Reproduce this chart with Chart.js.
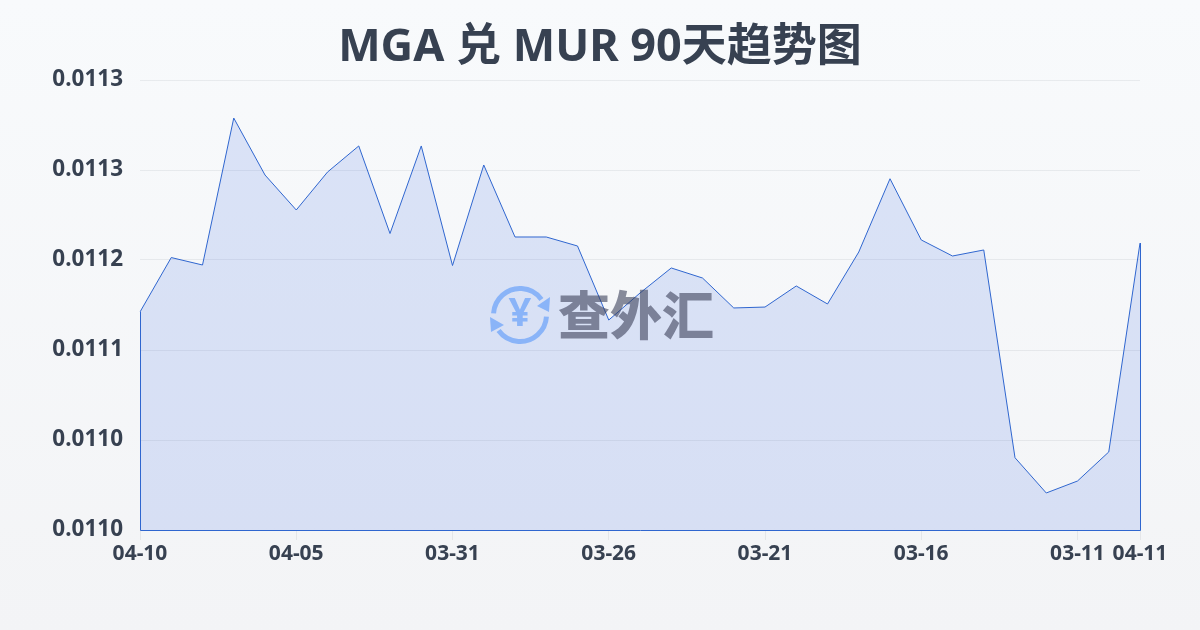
<!DOCTYPE html>
<html lang="zh-CN">
<head>
    <meta charset="UTF-8">
    <title>MGA 兑 MUR 90天趋势图</title>
    <style>
        html, body { margin: 0; padding: 0; }
        body { width: 1200px; height: 630px; overflow: hidden; background: linear-gradient(180deg, #f8fafc, #f3f4f6); }
        #wrap { position: relative; width: 1200px; height: 630px; }
        h1 {
            position: absolute; left: 0; top: 14px; width: 1200px; margin: 0;
            text-align: center; line-height: 60px; font-size: 45px; font-weight: bold; color: #374151;
            font-family: "Noto Sans", "Noto Sans CJK SC", sans-serif;
        }
    </style>
</head>
<body>
    <div id="wrap">
        <h1 id="title"></h1>
        <canvas id="chart" width="1200" height="630"></canvas>
    </div>

    <script src="https://cdn.jsdelivr.net/npm/chart.js@4.4.9/dist/chart.umd.min.js"></script>
    <script>
        const titleText = 'MGA 兑 MUR 90天趋势图';
        const fontStack = '"Noto Sans", "Noto Sans CJK SC", sans-serif';

        const dates = ['04-10', '04-09', '04-08', '04-07', '04-06', '04-05', '04-04', '04-03', '04-02', '04-01', '03-31',
            '03-30', '03-29', '03-28', '03-27', '03-26', '03-25', '03-24', '03-23', '03-22', '03-21',
            '03-20', '03-19', '03-18', '03-17', '03-16', '03-15', '03-14', '03-13', '03-12', '03-11', '03-10', '04-11'];
        const rates = [0.0111446, 0.0111869, 0.0111811, 0.0112954, 0.0112511, 0.0112239, 0.0112534, 0.0112737, 0.0112056, 0.0112737, 0.0111807,
            0.0112589, 0.0112029, 0.0112029, 0.0111959, 0.0111383, 0.0111593, 0.0111788, 0.0111710, 0.0111477, 0.0111484,
            0.0111648, 0.0111508, 0.0111912, 0.0112482, 0.0112006, 0.0111881, 0.0111928, 0.0110312, 0.0110038, 0.0110131, 0.0110357, 0.0111982];
        const xLabelDates = ['04-10', '04-05', '03-31', '03-26', '03-21', '03-16', '03-11', '04-11'];
        const yTickValues = [0.010975, 0.011045, 0.011115, 0.011185, 0.011255, 0.011325];
        const yTickLabels = ['0.0110', '0.0110', '0.0111', '0.0112', '0.0113', '0.0113'];

        const lineColor = '#2f66cf';

        document.getElementById('title').textContent = titleText;

        // outline down the sides and along the bottom of the area
        const areaEdge = {
            id: 'areaEdge',
            afterDatasetsDraw(chart) {
                const { ctx, chartArea: a } = chart;
                const yFirst = chart.scales.y.getPixelForValue(rates[0]);
                const yLast = chart.scales.y.getPixelForValue(rates[rates.length - 1]);
                ctx.save();
                ctx.strokeStyle = lineColor;
                ctx.lineWidth = 1;
                ctx.beginPath();
                ctx.moveTo(a.left + 0.5, yFirst);
                ctx.lineTo(a.left + 0.5, a.bottom + 0.5);
                ctx.lineTo(a.right + 0.5, a.bottom + 0.5);
                ctx.lineTo(a.right + 0.5, yLast);
                ctx.stroke();
                ctx.restore();
            }
        };

        const watermark = {
            id: 'watermark',
            afterDatasetsDraw(chart) {
                const { ctx } = chart;
                const cx = 520, cy = 315, r = 26.5;
                ctx.save();
                ctx.strokeStyle = '#8ab4f8';
                ctx.fillStyle = '#8ab4f8';
                ctx.lineWidth = 5;
                ctx.beginPath();
                ctx.arc(cx, cy, r, Math.PI * 1.02, Math.PI * 1.8);
                ctx.stroke();
                ctx.beginPath();
                ctx.arc(cx, cy, r, Math.PI * 0.02, Math.PI * 0.8);
                ctx.stroke();
                ctx.beginPath();
                ctx.moveTo(550, 297); ctx.lineTo(549, 312); ctx.lineTo(537, 306);
                ctx.closePath();
                ctx.fill();
                ctx.beginPath();
                ctx.moveTo(490, 317); ctx.lineTo(504, 325); ctx.lineTo(491, 332);
                ctx.closePath();
                ctx.fill();
                ctx.font = 'bold 40px ' + fontStack;
                ctx.textAlign = 'center';
                ctx.textBaseline = 'middle';
                ctx.fillText('¥', cx, cy);
                ctx.font = '900 52px "Noto Sans CJK SC", sans-serif';
                ctx.fillStyle = 'rgba(60, 65, 90, 0.6)';
                ctx.fillText('查外汇', 636, 315);
                ctx.restore();
            }
        };

        new Chart(document.getElementById('chart'), {
            type: 'line',
            data: {
                labels: dates,
                datasets: [{
                    data: rates,
                    borderColor: lineColor,
                    borderWidth: 1,
                    backgroundColor: 'rgba(45, 90, 225, 0.14)',
                    fill: 'start',
                    tension: 0,
                    pointRadius: 0
                }]
            },
            plugins: [areaEdge, watermark],
            options: {
                responsive: false,
                animation: false,
                layout: { padding: { left: 0, right: 60, top: 80, bottom: 0 } },
                plugins: {
                    legend: { display: false },
                    tooltip: { enabled: false },
                    title: { display: false }
                },
                scales: {
                    x: {
                        afterBuildTicks(scale) {
                            scale.ticks = xLabelDates.map(d => ({ value: dates.indexOf(d) }));
                        },
                        afterFit(scale) { scale.height = 100; },
                        grid: { drawOnChartArea: false, drawTicks: true, tickLength: 10, color: 'rgba(55, 65, 81, 0.08)' },
                        border: { display: false },
                        ticks: {
                            autoSkip: false,
                            maxRotation: 0,
                            padding: 1,
                            color: '#374151',
                            font: { family: fontStack, size: 21, weight: 'bold' },
                            callback(value) { return dates[value]; }
                        }
                    },
                    y: {
                        min: yTickValues[0],
                        max: yTickValues[yTickValues.length - 1],
                        afterBuildTicks(scale) {
                            scale.ticks = yTickValues.map(v => ({ value: v }));
                        },
                        afterFit(scale) { scale.width = 140; },
                        grid: { drawTicks: false, color: 'rgba(55, 65, 81, 0.08)' },
                        border: { display: false },
                        ticks: {
                            padding: 17,
                            color: '#374151',
                            font: { family: fontStack, size: 22.5, weight: 'bold' },
                            callback(value, i) { return yTickLabels[i]; }
                        }
                    }
                }
            }
        });
    </script>
</body>
</html>
